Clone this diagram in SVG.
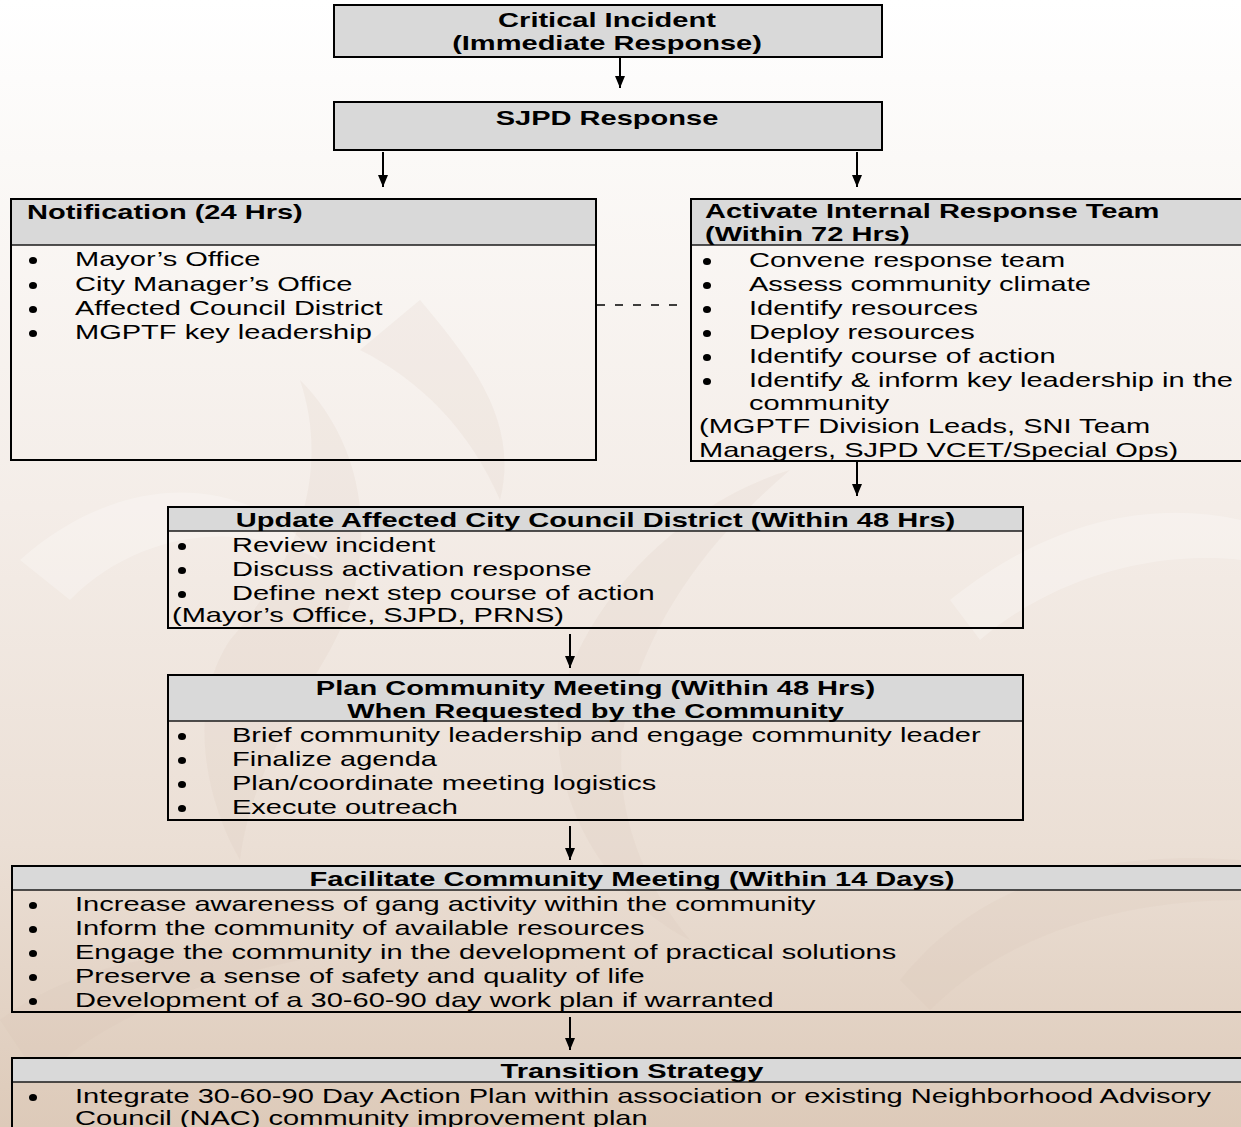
<svg xmlns="http://www.w3.org/2000/svg" width="1241" height="1127" viewBox="0 0 1241 1127">
<defs>
<linearGradient id="bg" x1="0" y1="0" x2="0" y2="1">
<stop offset="0" stop-color="#ffffff"/>
<stop offset="0.14" stop-color="#fbf9f7"/>
<stop offset="0.45" stop-color="#f4ede8"/>
<stop offset="0.75" stop-color="#ebdfd5"/>
<stop offset="1" stop-color="#ddcab9"/>
</linearGradient>
<marker id="ah" viewBox="0 0 12 10" refX="12" refY="5" markerWidth="12" markerHeight="10" markerUnits="userSpaceOnUse" orient="auto">
<path d="M0,0 L12,5 L0,10 z" fill="#000"/>
</marker>
<style>
.box{fill:none;stroke:#000;stroke-width:2}
.fill{fill:#d9d9d9;stroke:#000;stroke-width:2}
.hdr{fill:#d9d9d9}
.sep{stroke:#1a1a1a;stroke-width:1.5}
.t{font-family:"Liberation Sans",Arial,sans-serif;font-size:21px;fill:#000}
.b{font-weight:bold}
.m{text-anchor:middle}
.dot{fill:#000}
.conn{stroke:#000;stroke-width:2;fill:none}
.dash{stroke:#000;stroke-width:1.5;stroke-dasharray:8 10;fill:none}
.sw1{fill:#ffffff;opacity:0.25}
.sw2{fill:#d6bfae;opacity:0.14}
</style>
</defs>
<rect x="0" y="0" width="1241" height="1127" fill="url(#bg)"/>
<g id="background-swirls">
<path class="sw2" d="M560 700 C590 590 690 500 790 470 C720 530 650 610 625 720 C610 800 640 880 690 940 C610 900 545 800 560 700 Z"/>
<path class="sw2" d="M230 640 C300 560 330 470 300 380 C370 450 380 560 330 650 C290 720 250 780 240 860 C200 790 190 700 230 640 Z"/>
<path class="sw2" d="M900 980 C980 880 1100 850 1241 860 L1241 900 C1130 900 1010 930 930 1010 Z"/>
<path class="sw1" d="M20 560 C120 470 250 470 320 560 C240 520 140 530 70 600 Z"/>
<path class="sw1" d="M950 600 C1050 520 1150 500 1241 520 L1241 560 C1150 550 1050 580 980 640 Z"/>
<path class="sw2" d="M0 1020 C80 960 200 940 300 960 C200 980 100 1020 40 1080 Z"/>
<path class="sw2" d="M420 300 C470 360 520 420 500 500 C470 430 420 380 360 350 Z"/>
</g>
<g id="connectors">
<line class="conn" x1="620" y1="57" x2="620" y2="88" marker-end="url(#ah)"/>
<line class="conn" x1="383" y1="152" x2="383" y2="187" marker-end="url(#ah)"/>
<line class="conn" x1="857" y1="152" x2="857" y2="187" marker-end="url(#ah)"/>
<line class="conn" x1="857" y1="462" x2="857" y2="496" marker-end="url(#ah)"/>
<line class="conn" x1="570" y1="634" x2="570" y2="668" marker-end="url(#ah)"/>
<line class="conn" x1="570" y1="826" x2="570" y2="860" marker-end="url(#ah)"/>
<line class="conn" x1="570" y1="1017" x2="570" y2="1050" marker-end="url(#ah)"/>
<line class="dash" x1="597" y1="305" x2="677" y2="305"/>
</g>
<g id="node-critical-incident">
<rect class="fill" x="334" y="5" width="548" height="52"/>
<g class="t b m" transform="scale(1.383 1)">
<text x="438.9" y="27">Critical Incident</text>
<text x="438.9" y="50">(Immediate Response)</text>
</g>
</g>
<g id="node-sjpd-response">
<rect class="fill" x="334" y="102" width="548" height="48"/>
<g class="t b m" transform="scale(1.383 1)">
<text x="438.9" y="125">SJPD Response</text>
</g>
</g>
<g id="node-notification">
<rect class="hdr" x="11" y="199" width="585" height="46"/>
<line class="sep" x1="11" y1="245" x2="596" y2="245"/>
<rect class="box" x="11" y="199" width="585" height="261"/>
<g class="t" transform="scale(1.383 1)">
<text class="b" x="19.52" y="219">Notification (24 Hrs)</text>
<text x="54.23" y="266">Mayor’s Office</text>
<text x="54.23" y="291">City Manager’s Office</text>
<text x="54.23" y="315">Affected Council District</text>
<text x="54.23" y="339">MGPTF key leadership</text>
</g>
<ellipse class="dot" cx="33" cy="260.5" rx="4" ry="3.5"/>
<ellipse class="dot" cx="33" cy="285.5" rx="4" ry="3.5"/>
<ellipse class="dot" cx="33" cy="309.5" rx="4" ry="3.5"/>
<ellipse class="dot" cx="33" cy="333.5" rx="4" ry="3.5"/>
</g>
<g id="node-activate-team">
<rect class="hdr" x="691" y="199" width="560" height="46"/>
<line class="sep" x1="691" y1="245" x2="1251" y2="245"/>
<rect class="box" x="691" y="199" width="560" height="262"/>
<g class="t" transform="scale(1.383 1)">
<text class="b" x="509.76" y="218">Activate Internal Response Team</text>
<text class="b" x="509.76" y="241">(Within 72 Hrs)</text>
<text x="541.58" y="267">Convene response team</text>
<text x="541.58" y="291">Assess community climate</text>
<text x="541.58" y="315">Identify resources</text>
<text x="541.58" y="339">Deploy resources</text>
<text x="541.58" y="363">Identify course of action</text>
<text x="541.58" y="387">Identify &amp; inform key leadership in the</text>
<text x="541.58" y="410">community</text>
<text x="505.42" y="433">(MGPTF Division Leads, SNI Team</text>
<text x="505.42" y="457">Managers, SJPD VCET/Special Ops)</text>
</g>
<ellipse class="dot" cx="707" cy="261.5" rx="4" ry="3.5"/>
<ellipse class="dot" cx="707" cy="285.5" rx="4" ry="3.5"/>
<ellipse class="dot" cx="707" cy="309.5" rx="4" ry="3.5"/>
<ellipse class="dot" cx="707" cy="333.5" rx="4" ry="3.5"/>
<ellipse class="dot" cx="707" cy="357.5" rx="4" ry="3.5"/>
<ellipse class="dot" cx="707" cy="381.5" rx="4" ry="3.5"/>
</g>
<g id="node-update-district">
<rect class="hdr" x="168" y="507" width="855" height="24"/>
<line class="sep" x1="168" y1="531" x2="1023" y2="531"/>
<rect class="box" x="168" y="507" width="855" height="121"/>
<g class="t" transform="scale(1.383 1)">
<text class="b m" x="430.59" y="527">Update Affected City Council District (Within 48 Hrs)</text>
<text x="167.75" y="552">Review incident</text>
<text x="167.75" y="576">Discuss activation response</text>
<text x="167.75" y="600">Define next step course of action</text>
<text x="124.37" y="622">(Mayor’s Office, SJPD, PRNS)</text>
</g>
<ellipse class="dot" cx="182" cy="546.5" rx="4" ry="3.5"/>
<ellipse class="dot" cx="182" cy="570.5" rx="4" ry="3.5"/>
<ellipse class="dot" cx="182" cy="594.5" rx="4" ry="3.5"/>
</g>
<g id="node-plan-meeting">
<rect class="hdr" x="168" y="675" width="855" height="46"/>
<line class="sep" x1="168" y1="721" x2="1023" y2="721"/>
<rect class="box" x="168" y="675" width="855" height="145"/>
<g class="t" transform="scale(1.383 1)">
<text class="b m" x="430.59" y="695">Plan Community Meeting (Within 48 Hrs)</text>
<text class="b m" x="430.59" y="718">When Requested by the Community</text>
<text x="167.75" y="742">Brief community leadership and engage community leader</text>
<text x="167.75" y="766">Finalize agenda</text>
<text x="167.75" y="790">Plan/coordinate meeting logistics</text>
<text x="167.75" y="814">Execute outreach</text>
</g>
<ellipse class="dot" cx="182" cy="736.5" rx="4" ry="3.5"/>
<ellipse class="dot" cx="182" cy="760.5" rx="4" ry="3.5"/>
<ellipse class="dot" cx="182" cy="784.5" rx="4" ry="3.5"/>
<ellipse class="dot" cx="182" cy="808.5" rx="4" ry="3.5"/>
</g>
<g id="node-facilitate-meeting">
<rect class="hdr" x="12" y="866" width="1240" height="24"/>
<line class="sep" x1="12" y1="890" x2="1252" y2="890"/>
<rect class="box" x="12" y="866" width="1240" height="146"/>
<g class="t" transform="scale(1.383 1)">
<text class="b m" x="456.98" y="886">Facilitate Community Meeting (Within 14 Days)</text>
<text x="54.23" y="911">Increase awareness of gang activity within the community</text>
<text x="54.23" y="935">Inform the community of available resources</text>
<text x="54.23" y="959">Engage the community in the development of practical solutions</text>
<text x="54.23" y="983">Preserve a sense of safety and quality of life</text>
<text x="54.23" y="1007">Development of a 30-60-90 day work plan if warranted</text>
</g>
<ellipse class="dot" cx="33" cy="905.5" rx="4" ry="3.5"/>
<ellipse class="dot" cx="33" cy="929.5" rx="4" ry="3.5"/>
<ellipse class="dot" cx="33" cy="953.5" rx="4" ry="3.5"/>
<ellipse class="dot" cx="33" cy="977.5" rx="4" ry="3.5"/>
<ellipse class="dot" cx="33" cy="1001.5" rx="4" ry="3.5"/>
</g>
<g id="node-transition-strategy">
<rect class="hdr" x="12" y="1058" width="1240" height="24"/>
<line class="sep" x1="12" y1="1082" x2="1252" y2="1082"/>
<rect class="box" x="12" y="1058" width="1240" height="90"/>
<g class="t" transform="scale(1.383 1)">
<text class="b m" x="456.98" y="1078">Transition Strategy</text>
<text x="54.23" y="1103">Integrate 30-60-90 Day Action Plan within association or existing Neighborhood Advisory</text>
<text x="54.23" y="1125">Council (NAC) community improvement plan</text>
</g>
<ellipse class="dot" cx="33" cy="1097.5" rx="4" ry="3.5"/>
</g>
</svg>
